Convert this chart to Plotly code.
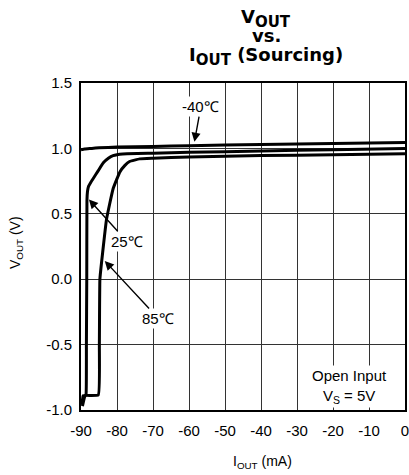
import plotly.graph_objects as go

# -40 C
x_m40 = [-90, -89, -87, -85, -80, -70, -60, -40, -20, 0]
y_m40 = [0.99, 0.995, 1.0, 1.005, 1.01, 1.015, 1.02, 1.03, 1.038, 1.045]

# 25 C
x_25 = [-89.6, -89.0, -88.6, -88.5, -88.4, -88.35, -88.2, -87.9, -87.3, -86.6, -85.2, -83.8, -82.4, -81.1, -78.4, -70, -60, -40, -20, 0]
y_25 = [-0.97, -0.90, -0.88, -0.5, 0.0, 0.60, 0.67, 0.71, 0.74, 0.77, 0.83, 0.89, 0.925, 0.945, 0.958, 0.963, 0.97, 0.98, 0.99, 1.0]

# 85 C
x_85 = [-89.7, -89.4, -85.2, -84.9, -84.75, -84.0, -82.9, -81.1, -79.2, -77.8, -76.5, -73.7, -70, -60, -40, -20, 0]
y_85 = [-0.96, -0.89, -0.885, -0.5, 0.0, 0.2, 0.46, 0.69, 0.82, 0.87, 0.90, 0.92, 0.925, 0.935, 0.945, 0.952, 0.96]

x_ticks = [-90, -80, -70, -60, -50, -40, -30, -20, -10, 0]
y_ticks = [-1.0, -0.5, 0.0, 0.5, 1.0, 1.5]

FONT = "Liberation Sans, Arial, sans-serif"
TFONT = "DejaVu Sans, Liberation Sans, sans-serif"

L, R, T, B = 81, 4, 83, 65
W, H = 409, 475
PW, PH = W - L - R, H - T - B

def px_to_paper(xp, yp):
    return (xp - L) / PW, (H - B - yp) / PH

fig = go.Figure()
for xs, ys in [(x_m40, y_m40), (x_25, y_25), (x_85, y_85)]:
    fig.add_trace(go.Scatter(x=xs, y=ys, mode="lines",
                             line=dict(color="black", width=3, shape="spline", smoothing=0.3),
                             showlegend=False, hoverinfo="skip"))

fig.update_layout(
    width=W, height=H,
    margin=dict(l=L, r=R, t=T, b=B, autoexpand=False),
    paper_bgcolor="white", plot_bgcolor="white",
    font=dict(family=FONT, size=15, color="black"),
    xaxis=dict(range=[-90, 0], tickvals=x_ticks, ticktext=[str(v) for v in x_ticks],
               showgrid=True, gridcolor="#333333", gridwidth=1.3,
               showline=True, linecolor="black", linewidth=2, mirror=True,
               zeroline=False, ticks="", ticklen=0, automargin=False,
               ticklabelstandoff=6, ticklabeloverflow="allow",
               tickfont=dict(family=FONT, size=15)),
    yaxis=dict(range=[-1.0, 1.5], tickvals=y_ticks, ticktext=["%.1f" % v for v in y_ticks],
               showgrid=True, gridcolor="#333333", gridwidth=1.3,
               showline=True, linecolor="black", linewidth=2, mirror=True,
               zeroline=False, ticks="", ticklen=0, automargin=False,
               ticklabelstandoff=4, ticklabeloverflow="allow",
               tickfont=dict(family=FONT, size=15)),
)

# title lines
SUB = '<sub><span style="font-size:15px">OUT</span></sub>'
title_lines = [
    ("<b>V" + SUB + "</b>", 18),
    ("<b>vs.</b>", 36),
    ("<b>I" + SUB + " (Sourcing)</b>", 56),
]
for txt, yp in title_lines:
    xx, yy = px_to_paper(266, yp)
    fig.add_annotation(x=xx, y=yy, xref="paper", yref="paper", text=txt,
                       showarrow=False, xanchor="center", yanchor="middle",
                       font=dict(family=TFONT, size=18, color="black"))

# axis titles
xx, yy = px_to_paper(262, 462)
fig.add_annotation(x=xx, y=yy, xref="paper", yref="paper", text="I<sub>OUT</sub> (mA)",
                   showarrow=False, xanchor="center", yanchor="middle",
                   font=dict(family=FONT, size=14, color="black"))
xx, yy = px_to_paper(16, 243)
fig.add_annotation(x=xx, y=yy, xref="paper", yref="paper", text="V<sub>OUT</sub> (V)",
                   showarrow=False, xanchor="center", yanchor="middle", textangle=-90,
                   font=dict(family=FONT, size=14, color="black"))

# labels with arrows (text at tail, arrow to tip)
arrows = [
    ("-40℃", -56.7, 1.32, -58.5, 1.05),
    ("25℃", -77.3, 0.29, -87.8, 0.61),
    ("85℃", -68.5, -0.30, -83.4, 0.14),
]
for txt, tx, ty, hx, hy in arrows:
    fig.add_annotation(x=hx, y=hy, ax=tx, ay=ty, xref="x", yref="y",
                       axref="x", ayref="y", text=txt, showarrow=True,
                       arrowhead=2, arrowsize=1.3, arrowwidth=1.4, arrowcolor="black",
                       bgcolor="white", borderpad=1,
                       font=dict(family=FONT, size=15, color="black"))

fig.add_annotation(x=-15.5, y=-0.82, xref="x", yref="y",
                   text="Open Input<br>V<sub>S</sub> = 5V", showarrow=False,
                   bgcolor="white", align="center",
                   font=dict(family=FONT, size=15, color="black"))

fig.write_html("out.html", config={"displayModeBar": False},
               post_script="document.body.style.margin='0';")
